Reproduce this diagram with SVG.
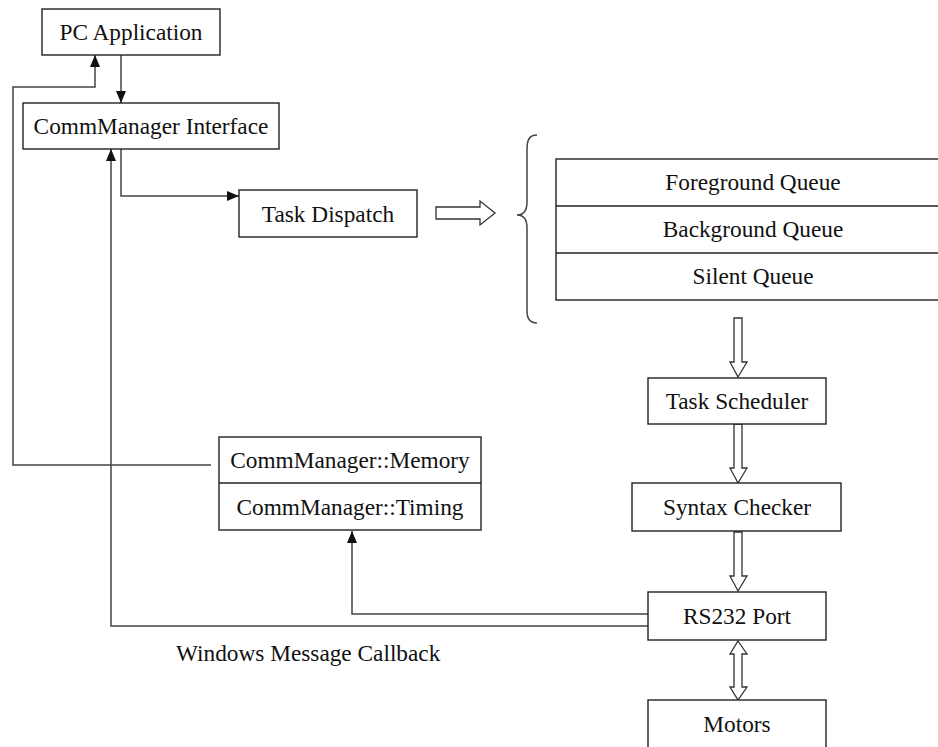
<svg xmlns="http://www.w3.org/2000/svg" width="938" height="747" viewBox="0 0 938 747">
  <style>
    .box { fill: #ffffff; stroke: #222; stroke-width: 1.4; }
    .lbl { font-family: "Liberation Serif", "Times New Roman", serif; font-size: 23.3px; fill: #111; text-anchor: middle; }
    .free { font-family: "Liberation Serif", "Times New Roman", serif; font-size: 23.3px; fill: #111; }
    .wire { fill: none; stroke: #444; stroke-width: 1.5; }
    .hollow { fill: #ffffff; stroke: #333; stroke-width: 1.3; stroke-linejoin: miter; }
  </style>
  <defs>
    <marker id="tip" viewBox="0 0 12 10" refX="12" refY="5" markerWidth="12" markerHeight="10" markerUnits="userSpaceOnUse" orient="auto">
      <path d="M0,0 L12,5 L0,10 Z" fill="#111"/>
    </marker>
  </defs>

  <rect width="938" height="747" fill="#ffffff"/>

  <!-- connectors -->
  <g id="connectors">
    <!-- PC Application -> CommManager Interface -->
    <path class="wire" d="M121,55 L121,103" marker-end="url(#tip)"/>
    <!-- Memory feedback -> PC Application -->
    <path class="wire" d="M211,465 L13,465 L13,87 L95,87 L95,55" marker-end="url(#tip)"/>
    <!-- CommManager Interface -> Task Dispatch -->
    <path class="wire" d="M121,149 L121,196 L239,196" marker-end="url(#tip)"/>
    <!-- RS232 Port -> CommManager Interface (callback) -->
    <path class="wire" d="M648,626 L111,626 L111,149" marker-end="url(#tip)"/>
    <!-- RS232 Port -> CommManager::Timing -->
    <path class="wire" d="M648,614 L352,614 L352,531" marker-end="url(#tip)"/>

    <!-- Task Dispatch => queues -->
    <path class="hollow" d="M436,207 L480,207 L480,201 L495,213 L480,225 L480,219 L436,219 Z"/>
    <!-- queues => Task Scheduler -->
    <path class="hollow" d="M734,318 L742,318 L742,362 L747,362 L738,377 L730,362 L734,362 Z"/>
    <!-- Task Scheduler => Syntax Checker -->
    <path class="hollow" d="M734,424 L742,424 L742,468 L747,468 L738,483 L730,468 L734,468 Z"/>
    <!-- Syntax Checker => RS232 Port -->
    <path class="hollow" d="M734,532 L742,532 L742,576 L747,576 L738,591 L730,576 L734,576 Z"/>
    <!-- RS232 Port <=> Motors -->
    <path class="hollow" d="M738,641 L747,654 L742,654 L742,687 L747,687 L738,700 L730,687 L734,687 L734,654 L730,654 Z"/>

    <!-- brace grouping the queues -->
    <path class="wire" d="M537,135 C529,135 527,140 527,150 L527,202 C527,210 524,215 517,215 C524,215 527,220 527,228 L527,311 C527,318 529,323 537,323"/>
  </g>

  <g id="pc-application">
    <rect class="box" x="42" y="9" width="178" height="46"/>
    <text class="lbl" x="131" y="40">PC Application</text>
  </g>

  <g id="commmanager-interface">
    <rect class="box" x="23" y="103" width="256" height="46"/>
    <text class="lbl" x="151" y="134">CommManager Interface</text>
  </g>

  <g id="task-dispatch">
    <rect class="box" x="239" y="190" width="178" height="47"/>
    <text class="lbl" x="328" y="222">Task Dispatch</text>
  </g>

  <g id="queues">
    <rect class="box" x="556" y="159" width="400" height="141"/>
    <line class="box" x1="556" y1="206" x2="956" y2="206"/>
    <line class="box" x1="556" y1="253" x2="956" y2="253"/>
    <text class="lbl" x="753" y="190">Foreground Queue</text>
    <text class="lbl" x="753" y="237">Background Queue</text>
    <text class="lbl" x="753" y="284">Silent Queue</text>
  </g>

  <g id="task-scheduler">
    <rect class="box" x="648" y="378" width="178" height="46"/>
    <text class="lbl" x="737" y="409">Task Scheduler</text>
  </g>

  <g id="commmanager-memory-timing">
    <rect class="box" x="219" y="437" width="262" height="93"/>
    <line class="box" x1="219" y1="483" x2="481" y2="483"/>
    <text class="lbl" x="350" y="468">CommManager::Memory</text>
    <text class="lbl" x="350" y="515">CommManager::Timing</text>
  </g>

  <g id="syntax-checker">
    <rect class="box" x="632" y="483" width="209" height="48"/>
    <text class="lbl" x="737" y="515">Syntax Checker</text>
  </g>

  <g id="rs232-port">
    <rect class="box" x="648" y="592" width="178" height="48"/>
    <text class="lbl" x="737" y="624">RS232 Port</text>
  </g>

  <g id="motors">
    <rect class="box" x="648" y="700" width="178" height="60"/>
    <text class="lbl" x="737" y="732">Motors</text>
  </g>

  <text class="free" x="176" y="661">Windows Message Callback</text>
</svg>
